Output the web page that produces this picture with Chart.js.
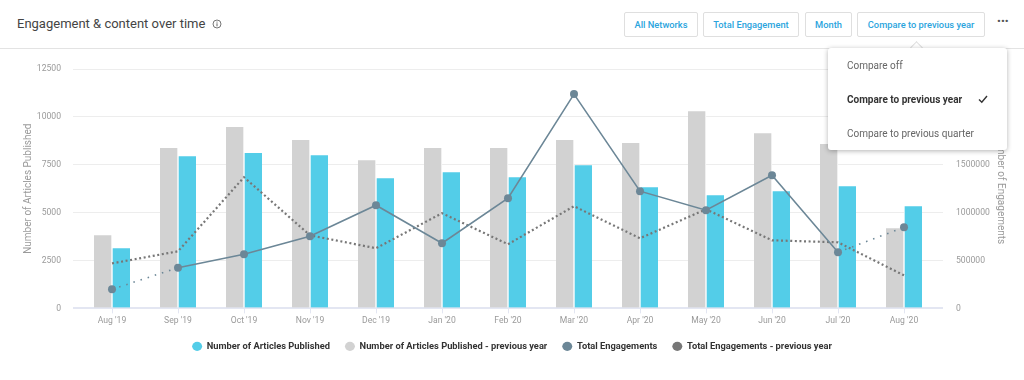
<!DOCTYPE html>
<html>
<head>
<meta charset="utf-8">
<script src="https://cdn.jsdelivr.net/npm/chart.js@4"></script>
<style>
	html, body { margin: 0; padding: 0; background: #fff; font-family: Roboto, sans-serif; }
	#page { position: relative; width: 1024px; height: 380px; overflow: hidden; }
	#header { position: absolute; left: 0; top: 0; width: 1024px; height: 48px; border-bottom: 1px solid #e3e3e3; }
	#title { position: absolute; left: 17px; top: 15px; font-size: 13px; line-height: 18px; color: #444; white-space: nowrap; }
	#info { position: absolute; left: 212px; top: 19px; }
	.btn { position: absolute; top: 12px; height: 23px; line-height: 23px; border: 1px solid #dfdfdf; border-radius: 2px; text-align: center; font-size: 9.3px; font-weight: 500; color: #2ba4dd; white-space: nowrap; box-sizing: content-box; }
	#more { position: absolute; left: 997px; top: 14px; font-size: 11.5px; line-height: 14px; color: #555; }
	#chartbox { position: absolute; left: 0; top: 49px; width: 1024px; height: 331px; }
	#menu { position: absolute; left: 828px; top: 48px; width: 179px; height: 102px; background: #fff; border-radius: 3px; box-shadow: 0 1px 5px rgba(0,0,0,.3); }
	#arrow { position: absolute; left: 912px; top: 43px; width: 9px; height: 9px; background: #fff; transform: rotate(45deg); border-left: 1px solid #ddd; border-top: 1px solid #ddd; box-sizing: border-box; }
	.item { position: absolute; left: 19px; font-size: 10px; line-height: 14px; color: #666; white-space: nowrap; }
	.item.on { font-weight: 700; color: #333; }
	#check { position: absolute; left: 150px; top: 46px; }
</style>
</head>
<body>
<div id="page">
	<div id="header">
		<div id="title">Engagement &amp; content over time</div>
		<svg id="info" width="10" height="10" viewBox="0 0 10 10">
			<circle cx="5" cy="5" r="4" fill="none" stroke="#666" stroke-width="0.9"></circle>
			<rect x="4.5" y="4.3" width="1" height="3" fill="#666"></rect>
			<rect x="4.5" y="2.6" width="1" height="1" fill="#666"></rect>
		</svg>
		<div class="btn" style="left:624px;width:72px">All Networks</div>
		<div class="btn" style="left:703px;width:94px">Total Engagement</div>
		<div class="btn" style="left:805px;width:45px">Month</div>
		<div class="btn" style="left:857px;width:126px">Compare to previous year</div>
		<div id="more">•••</div>
	</div>
	<div id="chartbox"><canvas id="myChart"></canvas></div>
	<div id="arrow"></div>
	<div id="menu">
		<div class="item" style="top:11px">Compare off</div>
		<div class="item on" style="top:45px">Compare to previous year</div>
		<div class="item" style="top:79px">Compare to previous quarter</div>
		<svg id="check" width="10" height="10" viewBox="0 0 10 10"><path d="M1 5.5 L3.8 8.2 L9 2" fill="none" stroke="#333" stroke-width="1.4"></path></svg>
	</div>
</div>
<script>
	const months = ["Aug '19", "Sep '19", "Oct '19", "Nov '19", "Dec '19", "Jan '20", "Feb '20", "Mar '20", "Apr '20", "May '20", "Jun '20", "Jul '20", "Aug '20"];
	const articles = [3140, 7950, 8110, 8000, 6800, 7110, 6850, 7480, 6330, 5910, 6120, 6380, 5330];
	const articlesPrev = [3820, 8370, 9470, 8790, 7740, 8370, 8370, 8790, 8630, 10300, 9150, 8580, 4180];
	const engagements = [199000, 425000, 565000, 753000, 1077000, 680000, 1150000, 2238000, 1224000, 1025000, 1391000, 586000, 847000];
	const engagementsPrev = [470000, 596000, 1370000, 763000, 628000, 994000, 670000, 1067000, 732000, 1035000, 711000, 690000, 345000];

	const tickGrey = "#9a9a9a";
	const lastIndex = months.length - 1;

	const ctx = document.getElementById('myChart').getContext('2d');
	new Chart(ctx, {
		type: 'bar',
		data: {
			labels: months,
			datasets: [
				{
					label: "Number of Articles Published",
					data: articles,
					backgroundColor: "#53cde8",
					borderColor: "#fff",
					borderWidth: { left: 1 },
					borderSkipped: false,
					barThickness: 18,
					yAxisID: 'y',
					order: 4
				},
				{
					label: "Number of Articles Published - previous year",
					data: articlesPrev,
					backgroundColor: "#d2d2d2",
					borderColor: "#fff",
					borderWidth: { right: 1 },
					borderSkipped: false,
					barThickness: 18,
					yAxisID: 'y',
					order: 3
				},
				{
					type: 'line',
					label: "Total Engagements",
					data: engagements,
					borderColor: "#6c8797",
					backgroundColor: "#6c8797",
					borderWidth: 1.6,
					pointRadius: 4,
					pointBackgroundColor: "#6c8797",
					pointBorderWidth: 0,
					tension: 0,
					yAxisID: 'y1',
					order: 1,
					segment: {
						// first and last month are not complete, drawn dotted
						borderDash: c => (c.p0DataIndex === 0 || c.p1DataIndex === lastIndex) ? [1.5, 6] : undefined
					}
				},
				{
					type: 'line',
					label: "Total Engagements - previous year",
					data: engagementsPrev,
					borderColor: "#777",
					backgroundColor: "#777",
					borderWidth: 2.2,
					borderDash: [2, 2.6],
					pointRadius: 0,
					tension: 0,
					yAxisID: 'y1',
					order: 2
				}
			]
		},
		options: {
			responsive: true,
			maintainAspectRatio: false,
			animation: false,
			layout: { padding: { top: 20, bottom: 19 } },
			plugins: {
				tooltip: { enabled: false },
				legend: {
					position: 'bottom',
					labels: {
						usePointStyle: true,
						pointStyle: 'circle',
						boxHeight: 6.4,
						pointStyleWidth: 10,
						padding: 15,
						color: "#333",
						font: { family: "Roboto", size: 9.3, weight: '700' },
						sort: (a, b) => a.datasetIndex - b.datasetIndex,
						generateLabels: chart => Chart.defaults.plugins.legend.labels.generateLabels(chart).map(l => {
							l.lineWidth = 0;
							l.lineDash = [];
							return l;
						})
					}
				}
			},
			scales: {
				x: {
					afterFit: s => { s.height = s.height - 1; },
					grid: { offset: false, drawOnChartArea: false, tickLength: 5, tickColor: "#e3e6f2" },
					border: { display: false },
					ticks: { color: tickGrey, font: { family: "Roboto", size: 8.6 }, padding: 2, maxRotation: 0, autoSkip: false }
				},
				y: {
					position: 'left',
					min: 0,
					max: 12500,
					afterFit: s => { s.width = 79; },
					grid: {
						color: c => c.tick.value === 0 ? "#e3e6f2" : "#ededed",
						lineWidth: c => c.tick.value === 0 ? 2 : 1,
						tickLength: 6,
						tickColor: c => c.tick.value === 0 ? "#e3e6f2" : "#ededed"
					},
					border: { display: false },
					ticks: { stepSize: 2500, color: tickGrey, font: { family: "Roboto", size: 8.6 }, padding: 12, callback: v => String(v) },
					title: { display: true, text: "Number of Articles Published", color: tickGrey, font: { family: "Roboto", size: 10 }, padding: { top: 22, bottom: 0 } }
				},
				y1: {
					position: 'right',
					min: 0,
					max: 2500000,
					afterFit: s => { s.width = 87; },
					grid: {
						drawOnChartArea: false,
						tickLength: 6,
						tickColor: c => c.tick.value === 0 ? "#e3e6f2" : "#ededed",
						lineWidth: c => c.tick.value === 0 ? 2 : 1
					},
					border: { display: false },
					ticks: { stepSize: 500000, color: tickGrey, font: { family: "Roboto", size: 8.6 }, padding: 13, callback: v => String(v) },
					title: { display: true, text: "Number of Engagements", color: tickGrey, font: { family: "Roboto", size: 10 }, padding: { top: 18, bottom: 0 } }
				}
			}
		}
	});
</script>
</body>
</html>
